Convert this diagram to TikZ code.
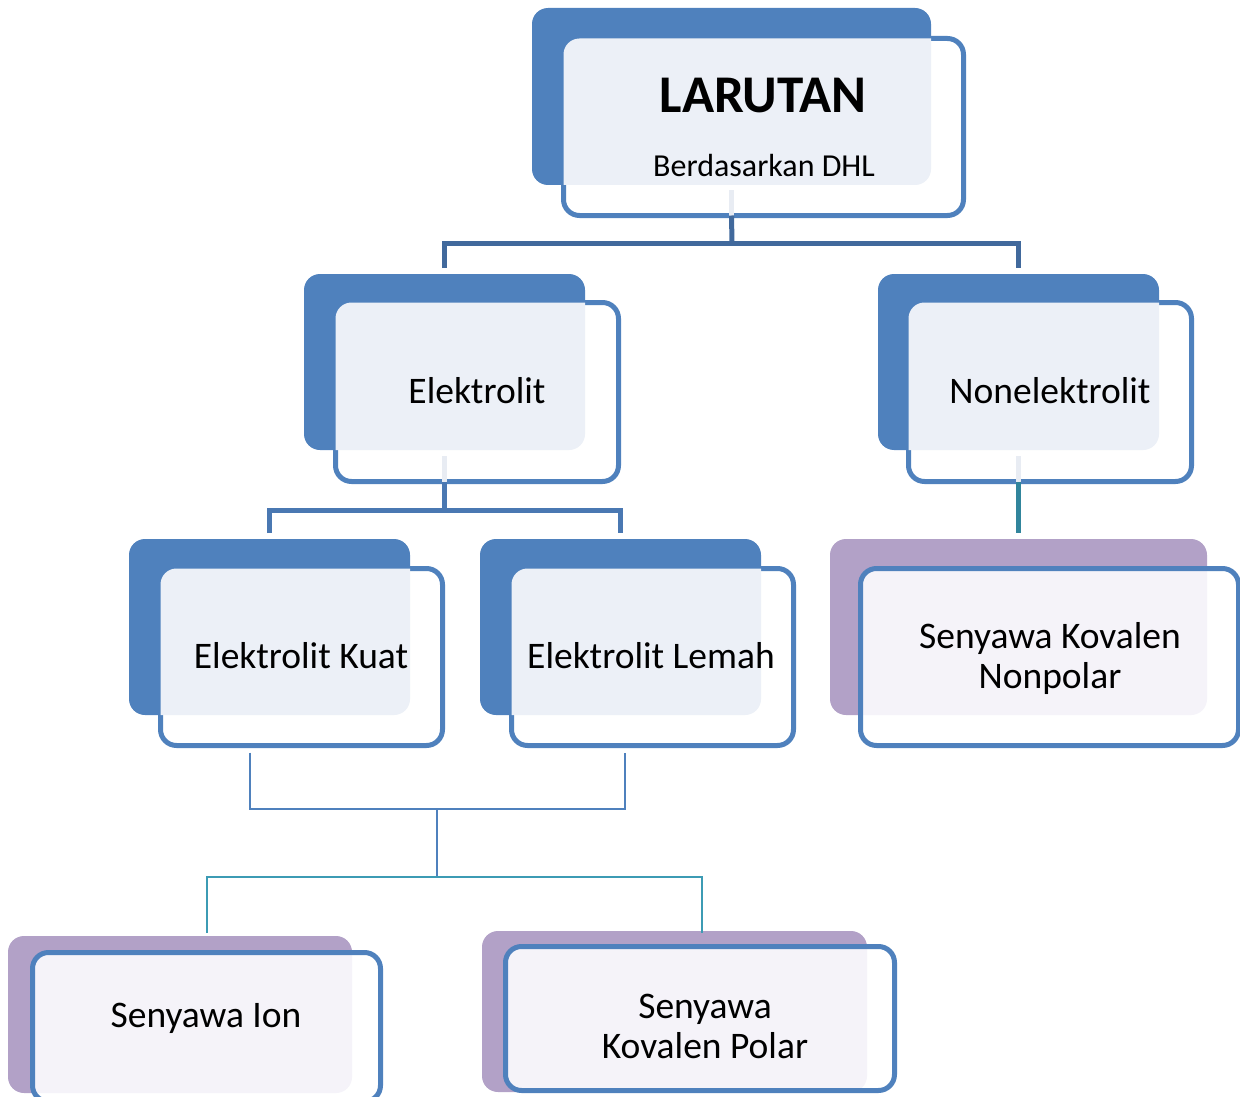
\documentclass[tikz,border=0pt]{standalone}
\usepackage{fontspec}
\setmainfont{Carlito}
\definecolor{bback}{HTML}{4F81BD}
\definecolor{pback}{HTML}{B2A1C7}
\definecolor{bover}{HTML}{ECF0F7}
\definecolor{pover}{HTML}{F5F3F9}
\definecolor{frame}{HTML}{4F81BD}
\definecolor{stubc}{HTML}{E8ECF3}
\definecolor{lineA}{HTML}{41699C}
\definecolor{lineB}{HTML}{4A78B2}
\definecolor{lineT}{HTML}{31859C}
\definecolor{thinB}{HTML}{4F81BD}
\definecolor{thinT}{HTML}{3C9BB4}
\newcommand\myoverlay[3]{%
  \begin{scope}
    \clip[rounded corners=16pt] (#1.south west) rectangle (#1.north east);
    \fill[#3, rounded corners=16pt] (#2.south west) rectangle (#2.north east);
  \end{scope}}
\begin{document}
\begin{tikzpicture}[x=1pt,y=-1pt,
  backbox/.style={rectangle, rounded corners=16pt, draw=none, inner sep=0pt, outer sep=0pt},
  bluebk/.style={backbox, fill=bback},
  purpbk/.style={backbox, fill=pback},
  frontbox/.style={rectangle, rounded corners=16pt, fill=white, draw=frame, line width=5pt, inner sep=0pt, outer sep=0pt},
  frontfill/.style={rectangle, rounded corners=16pt, fill=white, draw=none, inner sep=0pt, outer sep=0pt},
  frameline/.style={draw=frame, line width=5pt, rounded corners=16pt},
  lbl/.style={inner sep=0pt, outer sep=0pt, anchor=base, font=\fontsize{37.5}{42}\selectfont},
  stubline/.style={draw=stubc, line width=5pt},
  connA/.style={draw=lineA, line width=5pt},
  connB/.style={draw=lineB, line width=5pt},
  connT/.style={draw=lineT, line width=5pt},
  thinblue/.style={draw=thinB, line width=2pt},
  thinteal/.style={draw=thinT, line width=2pt}
]
\useasboundingbox (0,0) rectangle (1240,1097);

% back boxes
\node[bluebk, minimum width=399pt, minimum height=177pt] (larB) at (731.5,96.5) {};
\node[bluebk, minimum width=281pt, minimum height=176pt] (eB) at (444.5,362) {};
\node[bluebk, minimum width=281pt, minimum height=176pt] (nB) at (1018.5,362) {};
\node[bluebk, minimum width=281pt, minimum height=176pt] (ekB) at (269.5,627) {};
\node[bluebk, minimum width=281pt, minimum height=176pt] (elB) at (620.5,627) {};
\node[purpbk, minimum width=377pt, minimum height=176pt] (sknB) at (1018.5,627) {};
\node[purpbk, minimum width=344pt, minimum height=157pt] (siB) at (180,1014.5) {};
\node[purpbk, minimum width=385pt, minimum height=161pt] (skpB) at (674.5,1011.5) {};

% front boxes (blue family)
\node[frontbox, minimum width=400pt, minimum height=177pt] (lar) at (763.5,127) {};
\node[frontbox, minimum width=283pt, minimum height=179pt] (e) at (477,392) {};
\node[frontbox, minimum width=283pt, minimum height=179pt] (n) at (1050,392) {};
\node[frontbox, minimum width=282pt, minimum height=177pt] (ek) at (301.5,657) {};
\node[frontbox, minimum width=282pt, minimum height=177pt] (el) at (652.5,657) {};
% front boxes (purple family)
\node[frontfill, minimum width=378pt, minimum height=177pt] (skn) at (1049.5,657) {};
\node[frontfill, minimum width=348pt, minimum height=149pt] (si) at (206.5,1027) {};
\node[frontfill, minimum width=389pt, minimum height=144pt] (skp) at (700,1018.5) {};

% light overlays
\myoverlay{lar}{larB}{bover}
\myoverlay{e}{eB}{bover}
\myoverlay{n}{nB}{bover}
\myoverlay{ek}{ekB}{bover}
\myoverlay{el}{elB}{bover}
\myoverlay{skn}{sknB}{pover}
\myoverlay{si}{siB}{pover}
\myoverlay{skp}{skpB}{pover}

% frames of purple family on top
\draw[frameline] (skn.south west) rectangle (skn.north east);
\draw[frameline] (si.south west) rectangle (si.north east);
\draw[frameline] (skp.south west) rectangle (skp.north east);

% connectors
\coordinate (j1) at (732,243);
\draw[stubline] ([yshift=-5pt]larB.south) -- (larB.south |- lar.south);
\draw[connA] (larB.south |- lar.south) -- (j1);
\draw[connA] ([yshift=6pt]eB.north) |- (j1) -| ([yshift=6pt]nB.north);

\coordinate (j2) at (444.5,510);
\draw[stubline] ([yshift=-6pt]eB.south) -- (eB.south |- e.south);
\draw[connB] (eB.south |- e.south) -- (j2);
\draw[connB] ([yshift=6pt]ekB.north) |- (j2) -| ([yshift=6pt]elB.north);

\draw[stubline] ([yshift=-6pt]nB.south) -- (nB.south |- n.south);
\draw[connT] (nB.south |- n.south) -- ([yshift=6pt]sknB.north);

\coordinate (j3) at (437,809);
\coordinate (j4) at (437,877);
\draw[thinblue] ([xshift=-51.5pt,yshift=-7pt]ek.south) |- (j3) -| ([xshift=-27.5pt,yshift=-7pt]el.south);
\draw[thinblue] (j3) -- (j4);
\draw[thinteal] ([yshift=3pt]si.north |- siB.north) |- (j4) -| ([xshift=2pt,yshift=-2pt]skp.north |- skpB.north);

% texts
\node[lbl, font=\fontsize{53}{58}\selectfont\bfseries] (tlar) at (763,113) {LARUTAN};
\node[lbl, font=\fontsize{32}{36}\selectfont] (tdhl) at (764,177) {Berdasarkan DHL};
\node[lbl] (te) at (477,403) {Elektrolit};
\node[lbl] (tn) at (1050,403) {Nonelektrolit};
\node[lbl] (tek) at (301,668) {Elektrolit Kuat};
\node[lbl] (tel) at (651,668) {Elektrolit Lemah};
\node[lbl] (tskn1) at (1050,648) {Senyawa Kovalen};
\node[lbl] (tskn2) at (1050,688) {Nonpolar};
\node[lbl] (tsi) at (206,1027) {Senyawa Ion};
\node[lbl] (tskp1) at (705,1018) {Senyawa};
\node[lbl] (tskp2) at (705,1058) {Kovalen Polar};
\end{tikzpicture}
\end{document}
